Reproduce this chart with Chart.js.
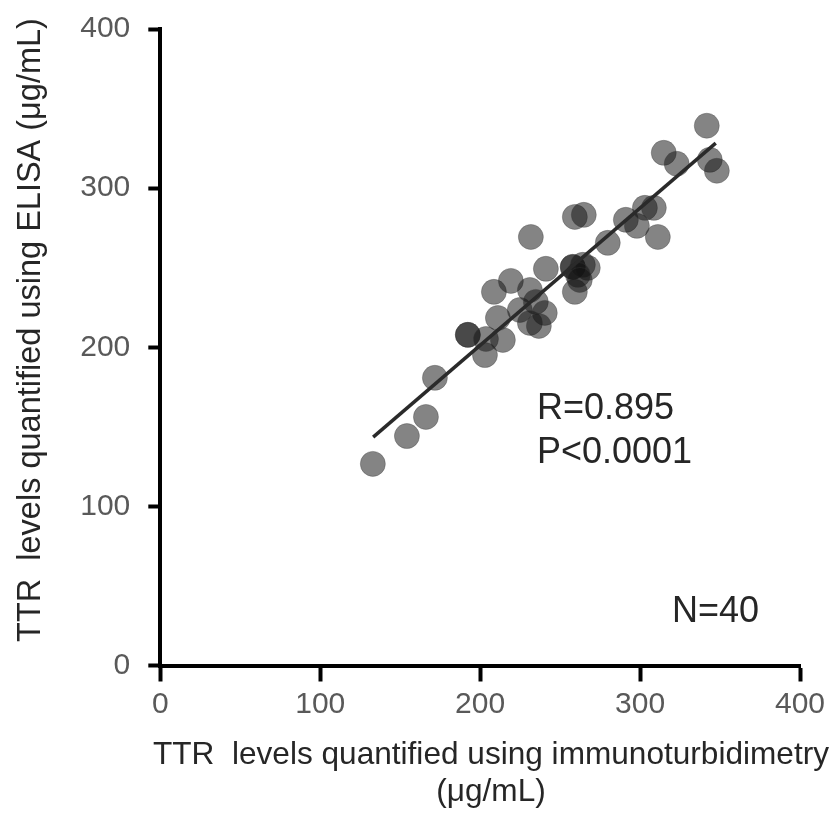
<!DOCTYPE html>
<html>
<head>
<meta charset="utf-8">
<script src="https://cdn.jsdelivr.net/npm/chart.js@4/dist/chart.umd.min.js"></script>
<style>
  html, body { margin: 0; padding: 0; background: #fff; }
  #wrap { width: 833px; height: 814px; }
</style>
</head>
<body>
<div id="wrap"><canvas id="c" width="833" height="814"></canvas></div>
<script>
// Immunoturbidimetry (x) vs ELISA (y), µg/mL
const immunoX = [132.9, 154.2, 166.1, 171.7, 192.3, 192.3, 203.0, 203.6, 214.2, 211.1,
                 208.6, 219.2, 224.8, 231.1, 234.8, 240.4, 231.1, 236.7, 231.7, 241.1,
                 259.2, 257.9, 257.9, 264.2, 267.3, 261.1, 262.3, 259.2, 264.8, 279.8,
                 291.1, 298.0, 303.0, 308.6, 311.1, 314.8, 322.9, 341.7, 343.6, 348.0];
const elisaY  = [126.7, 144.2, 156.2, 180.8, 207.8, 207.8, 195.1, 205.2, 204.6, 218.4,
                 234.8, 241.7, 223.4, 236.0, 228.5, 221.6, 215.3, 213.4, 269.3, 249.3,
                 234.8, 250.5, 250.5, 251.8, 249.9, 245.5, 242.3, 281.9, 283.2, 265.6,
                 280.1, 276.3, 287.6, 287.6, 269.3, 322.2, 315.3, 339.2, 317.8, 310.9];
// Regression line end points
const fitX = [133.1, 347.3];
const fitY = [143.5, 328.3];
// Axis ticks
const tickValues = [0, 100, 200, 300, 400];
// Texts
const xTitleLines = ['TTR  levels quantified using immunoturbidimetry', '(\u03bcg/mL)'];
const yTitle = 'TTR  levels quantified using ELISA (\u03bcg/mL)';
const statLines = ['R=0.895', 'P<0.0001'];
const nLabel = 'N=40';

const FONT = '"Liberation Sans", Arial, sans-serif';

const scatterPts = immunoX.map((x, i) => ({ x: x, y: elisaY[i] }));
const fitPts = fitX.map((x, i) => ({ x: x, y: fitY[i] }));

const textPlugin = {
  id: 'texts',
  afterDraw(chart) {
    const ctx = chart.ctx;
    ctx.save();
    ctx.fillStyle = '#262626';
    ctx.textBaseline = 'alphabetic';
    // Stats annotation
    ctx.font = '36px ' + FONT;
    ctx.textAlign = 'left';
    ctx.fillText(statLines[0], 537, 419);
    ctx.fillText(statLines[1], 537, 463);
    ctx.fillText(nLabel, 672, 622);
    // X title
    ctx.font = '31.6px ' + FONT;
    ctx.textAlign = 'center';
    ctx.fillText(xTitleLines[0], 491, 764);
    ctx.fillText(xTitleLines[1], 491, 801);
    // Y title
    ctx.font = '32.5px ' + FONT;
    ctx.translate(40, 330);
    ctx.rotate(-Math.PI / 2);
    ctx.fillText(yTitle, 0, 0);
    ctx.restore();
  }
};

new Chart(document.getElementById('c'), {
  data: {
    datasets: [
      {
        type: 'scatter',
        data: scatterPts,
        pointRadius: 12.5,
        pointHoverRadius: 12.5,
        pointBackgroundColor: 'rgba(20,20,20,0.52)',
        pointBorderColor: 'rgba(60,60,60,0.35)',
        pointBorderWidth: 1,
        order: 2
      },
      {
        type: 'line',
        data: fitPts,
        borderColor: '#2a2a2a',
        borderWidth: 3.5,
        pointRadius: 0,
        fill: false,
        order: 1
      }
    ]
  },
  plugins: [textPlugin],
  options: {
    responsive: false,
    animation: false,
    events: [],
    layout: { padding: { left: 0, right: 33, top: 29, bottom: 0 } },
    plugins: { legend: { display: false }, tooltip: { enabled: false } },
    scales: {
      x: {
        type: 'linear',
        min: 0, max: 400,
        afterBuildTicks: s => { s.ticks = tickValues.map(v => ({ value: v })); },
        afterFit: s => { s.height = 148.5; s.paddingRight = 0; s.paddingLeft = 0; },
        border: { display: true, color: '#000', width: 4 },
        grid: { display: true, drawOnChartArea: false, drawTicks: true, tickLength: 16, tickWidth: 4, tickColor: '#000', color: '#000' },
        ticks: { color: '#595959', font: { family: FONT, size: 30 }, padding: 5, maxRotation: 0 }
      },
      y: {
        type: 'linear',
        min: 0, max: 400,
        afterBuildTicks: s => { s.ticks = tickValues.map(v => ({ value: v })); },
        afterFit: s => { s.width = 160.3; s.paddingTop = 0; s.paddingBottom = 0; },
        border: { display: true, color: '#000', width: 4 },
        grid: { display: true, drawOnChartArea: false, drawTicks: true, tickLength: 12, tickWidth: 4, tickColor: '#000', color: '#000' },
        ticks: { color: '#595959', font: { family: FONT, size: 30 }, padding: 18 }
      }
    }
  }
});
</script>
</body>
</html>
